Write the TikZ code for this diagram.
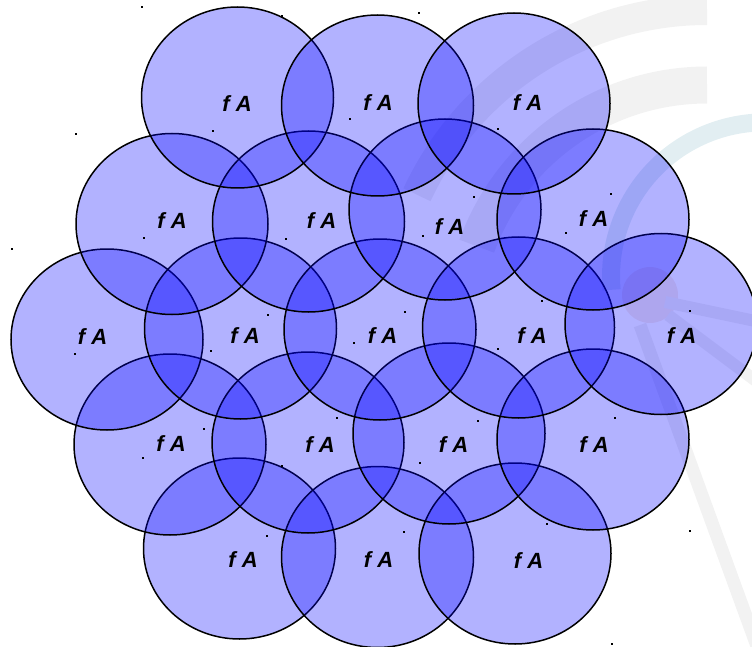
\documentclass[tikz,border=0pt]{standalone}
\usepackage{fontspec}
\setmainfont{Liberation Sans}
\definecolor{wmgray}{RGB}{242,242,242}
\definecolor{wmteal}{RGB}{226,238,242}
\definecolor{wmorange}{RGB}{250,238,232}
\begin{document}
\begin{tikzpicture}[x=1pt,y=-1pt,
  cell/.style={draw=black, line width=1.5pt, fill=blue, fill opacity=0.3, draw opacity=1},
  lbl/.style={font=\fontsize{22}{22}\selectfont\bfseries\itshape, text=black, inner sep=0pt},
  speck/.style={fill=black, minimum width=2pt, minimum height=1.5pt, inner sep=0pt, draw=none},
  wmband/.style={line cap=butt}]
\useasboundingbox (0,0) rectangle (752,647);
% faint watermark in the background
\begin{scope}
\clip (0,0) rectangle (752,647);
\fill[wmorange] (650,295) circle[radius=28pt];
\draw[wmband, wmgray, line width=30pt] (707,10) arc[start angle=270, end angle=205, radius=320];
\draw[wmband, wmgray, line width=37pt] (707,85) arc[start angle=270, end angle=200, radius=245];
\draw[wmband, wmteal, line width=18pt] (842,143) arc[start angle=300, end angle=175, radius=154];
\draw[wmband, wmgray, line width=12pt] (665,302) -- (760,322);
\draw[wmband, wmgray, line width=12pt] (668,315) -- (760,384);
\draw[wmband, wmgray, line width=13pt] (640,325) -- (762,660);
\end{scope}
% row 5
\draw[cell] (239.5,548.5) ellipse[x radius=96pt, y radius=90.5pt];
\draw[cell] (377.5,557) ellipse[x radius=96pt, y radius=90.5pt];
\draw[cell] (515,553.5) ellipse[x radius=96pt, y radius=90.5pt];
% row 4
\draw[cell] (170,444.5) ellipse[x radius=96pt, y radius=90.5pt];
\draw[cell] (308,442.5) ellipse[x radius=96pt, y radius=90.5pt];
\draw[cell] (449,433.5) ellipse[x radius=96pt, y radius=90.5pt];
\draw[cell] (593,439.5) ellipse[x radius=96pt, y radius=90.5pt];
% row 3
\draw[cell] (107,339.5) ellipse[x radius=96pt, y radius=90.5pt];
\draw[cell] (240.5,328.5) ellipse[x radius=96pt, y radius=90.5pt];
\draw[cell] (380,329.5) ellipse[x radius=96pt, y radius=90.5pt];
\draw[cell] (518.5,327.5) ellipse[x radius=96pt, y radius=90.5pt];
\draw[cell] (661,324) ellipse[x radius=96pt, y radius=90.5pt];
% row 2
\draw[cell] (172,224) ellipse[x radius=96pt, y radius=90.5pt];
\draw[cell] (308.5,221.5) ellipse[x radius=96pt, y radius=90.5pt];
\draw[cell] (445,209.5) ellipse[x radius=96pt, y radius=90.5pt];
\draw[cell] (593,219.5) ellipse[x radius=96pt, y radius=90.5pt];
% row 1
\draw[cell] (237.5,97.5) ellipse[x radius=96pt, y radius=90.5pt];
\draw[cell] (377.5,105.5) ellipse[x radius=96pt, y radius=90.5pt];
\draw[cell] (514,103.5) ellipse[x radius=96pt, y radius=90.5pt];
% labels
\node[lbl] (l1a) at (237,103.5) {f A};
\node[lbl] (l1b) at (378,103) {f A};
\node[lbl] (l1c) at (527.5,102.5) {f A};
\node[lbl] (l2a) at (172,221) {f A};
\node[lbl] (l2b) at (321.5,221) {f A};
\node[lbl] (l2c) at (449.5,227) {f A};
\node[lbl] (l2d) at (593.5,219) {f A};
\node[lbl] (l3a) at (92.5,337) {f A};
\node[lbl] (l3b) at (245,336) {f A};
\node[lbl] (l3c) at (382.5,336) {f A};
\node[lbl] (l3d) at (532,336) {f A};
\node[lbl] (l3e) at (681.5,335.5) {f A};
\node[lbl] (l4a) at (171,443.5) {f A};
\node[lbl] (l4b) at (320,444.5) {f A};
\node[lbl] (l4c) at (453.5,444.5) {f A};
\node[lbl] (l4d) at (594,444.5) {f A};
\node[lbl] (l5a) at (243,560) {f A};
\node[lbl] (l5b) at (378.5,560) {f A};
\node[lbl] (l5c) at (528.5,560.5) {f A};
% small specks
\foreach \px/\py [count=\i] in {142/7, 282/16, 213/131, 350/119, 419/13, 498/129, 474/197, 611/194,
  423/236, 566/233, 690/311, 615/418, 542/301, 12/249, 75/354, 144/238, 211/351, 204/429,
  420/463, 404/532, 547/524, 690/531, 612/644, 143/458, 282/466, 267/536, 286/239, 268/315,
  354/343, 405/312, 498/349, 337/418, 478/421, 76/134}
  \node[speck] (s\i) at (\px,\py) {};
\end{tikzpicture}
\end{document}
